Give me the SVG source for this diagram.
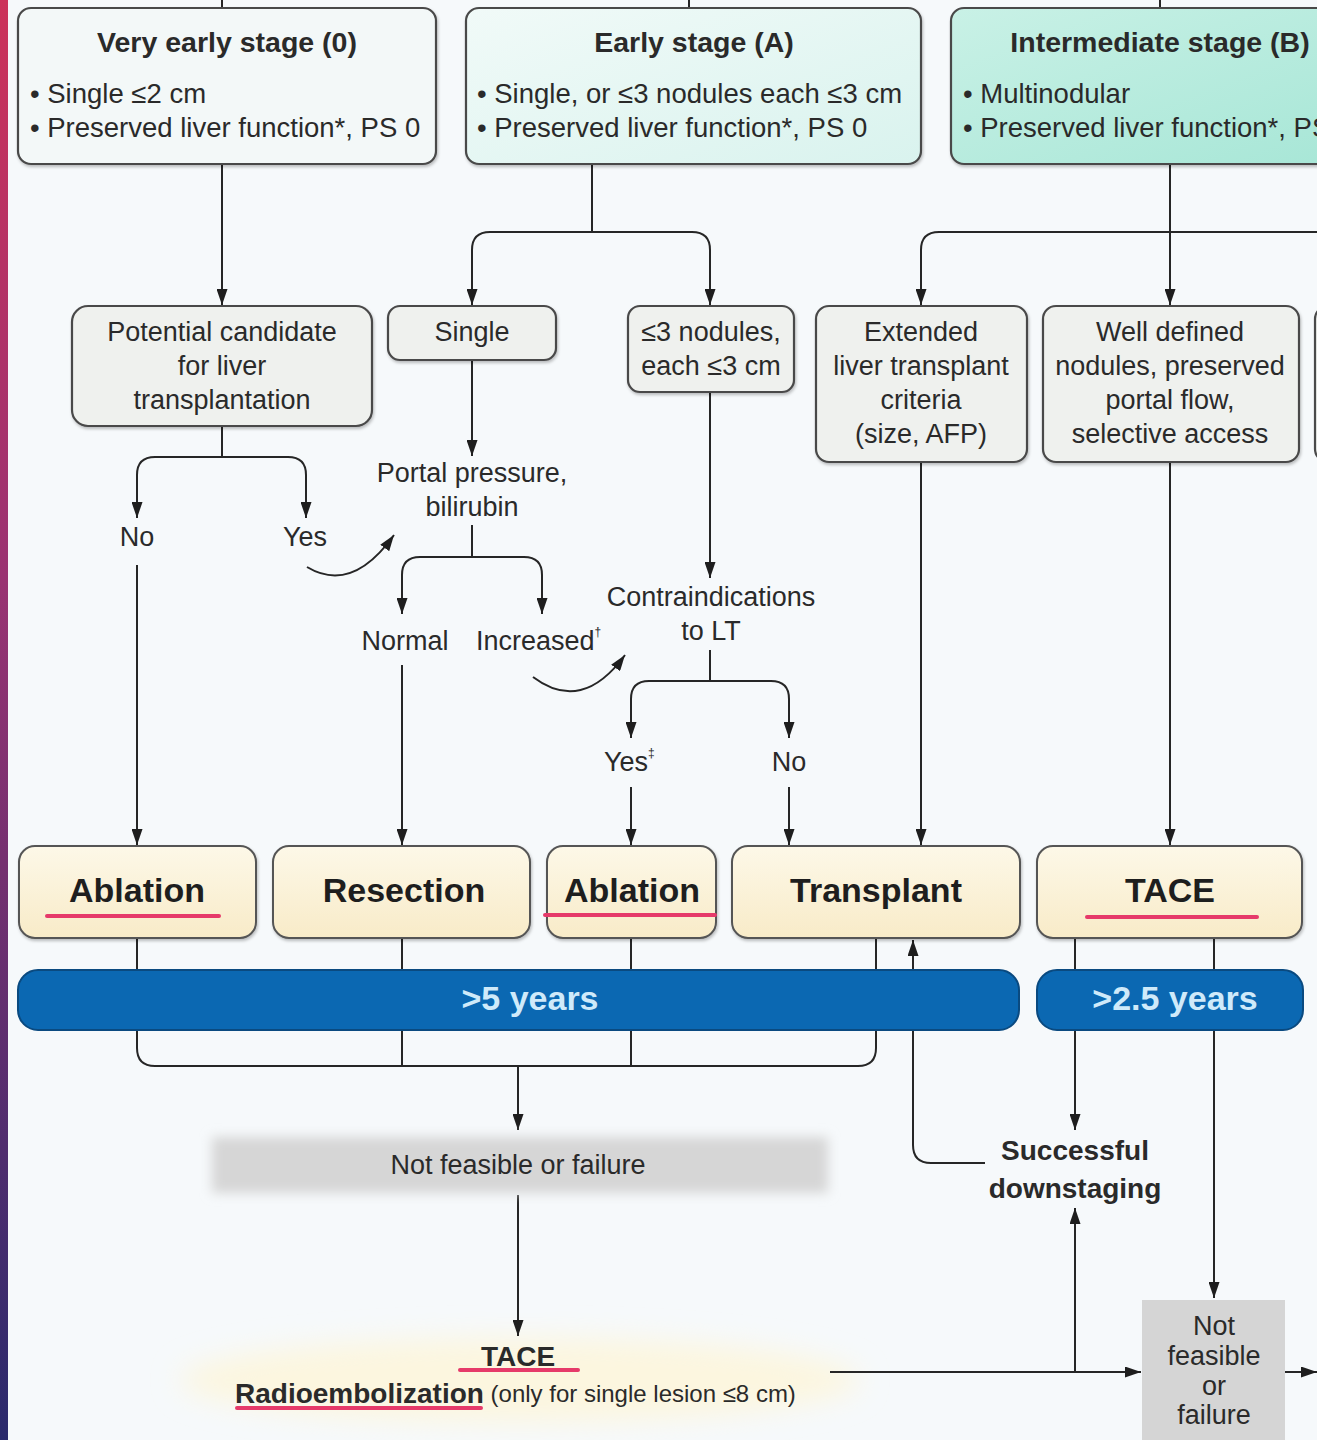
<svg xmlns="http://www.w3.org/2000/svg" width="1317" height="1440" viewBox="0 0 1317 1440">
<defs>
<style>
text{font-family:"Liberation Sans",Arial,sans-serif;fill:#2a2a2a;dominant-baseline:central}
.t{font-size:27px}
.ti{font-size:28.5px}
.bl{font-size:27.5px}
.b{font-weight:bold}
.c{text-anchor:middle}
.stage{stroke:#4a4a4a;stroke-width:2.2}
.q{fill:#eff1ee;stroke:#4a4a4a;stroke-width:2.2}
.tr{fill:url(#cream);stroke:#555;stroke-width:2}
.tl{font-size:34px;font-weight:bold;text-anchor:middle;fill:#1e1e1e}
.bar{fill:#0b68b2;stroke:#0a4a80;stroke-width:2}
.bt{font-size:34px;font-weight:bold;text-anchor:middle;fill:#cfeafa}
.ul{stroke:#e63a6a;stroke-width:4;stroke-linecap:round;fill:none}
.cn path{fill:none;stroke:#262626;stroke-width:2}
.a{marker-end:url(#arr)}
.sup{font-size:12px}
</style>
<marker id="arr" markerUnits="userSpaceOnUse" markerWidth="16" markerHeight="11" refX="16" refY="5.5" orient="auto">
<path d="M0,0 L16,5.5 L0,11 z" fill="#1e1e1e"/>
</marker>
<linearGradient id="strip" x1="0" y1="0" x2="0" y2="1">
<stop offset="0" stop-color="#cc335a"/>
<stop offset="0.4" stop-color="#9a3372"/>
<stop offset="1" stop-color="#2a2a6c"/>
</linearGradient>
<linearGradient id="cream" x1="0" y1="0" x2="0" y2="1">
<stop offset="0" stop-color="#fdf8e8"/>
<stop offset="1" stop-color="#f8ebc8"/>
</linearGradient>
<linearGradient id="gA" x1="0" y1="0" x2="1" y2="1">
<stop offset="0" stop-color="#f1faf8"/>
<stop offset="1" stop-color="#d9f3ee"/>
</linearGradient>
<linearGradient id="gB" x1="0" y1="0" x2="1" y2="1">
<stop offset="0" stop-color="#c9f1e6"/>
<stop offset="1" stop-color="#a6e6d6"/>
</linearGradient>
<filter id="sh" x="-5%" y="-5%" width="110%" height="120%">
<feDropShadow dx="1" dy="2" stdDeviation="1.5" flood-color="#000" flood-opacity="0.25"/>
</filter>
<filter id="blur" x="-10%" y="-40%" width="120%" height="180%">
<feGaussianBlur stdDeviation="6"/>
</filter>
<filter id="blur2" x="-20%" y="-60%" width="140%" height="220%">
<feGaussianBlur stdDeviation="14"/>
</filter>
</defs>

<rect width="1317" height="1440" fill="#f6f9fb"/>
<rect width="8" height="1440" fill="url(#strip)"/>
<ellipse cx="520" cy="1380" rx="340" ry="42" fill="#fcf6df" filter="url(#blur2)"/>

<g id="connectors" class="cn">
<path d="M222,0 V8"/>
<path d="M689,0 V8"/>
<path d="M1160,0 V8"/>
<path class="a" d="M222,164 V305"/>
<path d="M592,164 V232"/>
<path class="a" d="M592,232 H490 Q472,232 472,250 V305"/>
<path class="a" d="M592,232 H692 Q710,232 710,250 V305"/>
<path class="a" d="M1170,164 V305"/>
<path class="a" d="M1317,232 H939 Q921,232 921,250 V305"/>
<path d="M222,426 V457"/>
<path class="a" d="M222,457 H155 Q137,457 137,475 V518"/>
<path class="a" d="M222,457 H288 Q306,457 306,475 V518"/>
<path class="a" d="M137,565 V845"/>
<path class="a" d="M307,567 Q352,594 394,535"/>
<path class="a" d="M472,360 V456"/>
<path d="M472,525 V557"/>
<path class="a" d="M472,557 H420 Q402,557 402,575 V614"/>
<path class="a" d="M472,557 H524 Q542,557 542,575 V614"/>
<path class="a" d="M402,665 V845"/>
<path class="a" d="M533,677 Q582,714 625,655"/>
<path class="a" d="M710,392 V578"/>
<path d="M710,650 V681"/>
<path class="a" d="M710,681 H649 Q631,681 631,699 V738"/>
<path class="a" d="M710,681 H771 Q789,681 789,699 V738"/>
<path class="a" d="M631,787 V845"/>
<path class="a" d="M789,787 V845"/>
<path class="a" d="M921,462 V845"/>
<path class="a" d="M1170,462 V845"/>
<path d="M137,938 V1048 Q137,1066 155,1066 H858 Q876,1066 876,1048 V938"/>
<path d="M402,938 V1066"/>
<path d="M631,938 V1066"/>
<path class="a" d="M518,1066 V1130"/>
<path class="a" d="M518,1195 V1336"/>
<path class="a" d="M985,1163 H931 Q913,1163 913,1145 V940"/>
<path class="a" d="M1075,938 V1130"/>
<path class="a" d="M1214,938 V1298"/>
<path class="a" d="M830,1372 H1141"/>
<path class="a" d="M1075,1372 V1208"/>
<path class="a" d="M1285,1372 H1317"/>
</g>

<g id="stage0">
<rect class="stage" x="18" y="8" width="418" height="156" rx="13" fill="#f3f8f8" filter="url(#sh)"/>
<text class="ti b c" x="227" y="42">Very early stage (0)</text>
<text class="bl" x="30" y="93">• Single ≤2 cm</text>
<text class="bl" x="30" y="127">• Preserved liver function*, PS 0</text>
</g>

<g id="stageA">
<rect class="stage" x="466" y="8" width="455" height="156" rx="13" fill="url(#gA)" filter="url(#sh)"/>
<text class="ti b c" x="694" y="42">Early stage (A)</text>
<text class="bl" x="477" y="93">• Single, or ≤3 nodules each ≤3 cm</text>
<text class="bl" x="477" y="127">• Preserved liver function*, PS 0</text>
</g>

<g id="stageB">
<rect class="stage" x="951" y="8" width="420" height="156" rx="13" fill="url(#gB)" filter="url(#sh)"/>
<text class="ti b c" x="1160" y="42">Intermediate stage (B)</text>
<text class="bl" x="963" y="93">• Multinodular</text>
<text class="bl" x="963" y="127">• Preserved liver function*, PS 0</text>
</g>

<g id="candidate">
<rect class="q" x="72" y="306" width="300" height="120" rx="16" filter="url(#sh)"/>
<text class="t c" x="222" y="332">Potential candidate</text>
<text class="t c" x="222" y="366">for liver</text>
<text class="t c" x="222" y="400">transplantation</text>
</g>

<g id="single">
<rect class="q" x="388" y="306" width="168" height="54" rx="12" filter="url(#sh)"/>
<text class="t c" x="472" y="332">Single</text>
</g>

<g id="nodules3">
<rect class="q" x="628" y="306" width="166" height="86" rx="12" filter="url(#sh)"/>
<text class="t c" x="711" y="332">≤3 nodules,</text>
<text class="t c" x="711" y="366">each ≤3 cm</text>
</g>

<g id="extended">
<rect class="q" x="816" y="306" width="211" height="156" rx="13" filter="url(#sh)"/>
<text class="t c" x="921" y="332">Extended</text>
<text class="t c" x="921" y="366">liver transplant</text>
<text class="t c" x="921" y="400">criteria</text>
<text class="t c" x="921" y="434">(size, AFP)</text>
</g>

<g id="welldefined">
<rect class="q" x="1043" y="306" width="256" height="156" rx="13" filter="url(#sh)"/>
<text class="t c" x="1170" y="332">Well defined</text>
<text class="t c" x="1170" y="366">nodules, preserved</text>
<text class="t c" x="1170" y="400">portal flow,</text>
<text class="t c" x="1170" y="434">selective access</text>
</g>

<g id="offscreen">
<rect class="q" x="1315" y="306" width="60" height="156" rx="13"/>
</g>

<g id="labels">
<text class="t c" x="137" y="537">No</text>
<text class="t c" x="305" y="537">Yes</text>
<text class="t c" x="472" y="473">Portal pressure,</text>
<text class="t c" x="472" y="507">bilirubin</text>
<text class="t c" x="405" y="641">Normal</text>
<text class="t" x="476" y="641">Increased<tspan class="sup" dy="-9">†</tspan></text>
<text class="t c" x="711" y="597">Contraindications</text>
<text class="t c" x="711" y="631">to LT</text>
<text class="t" x="604" y="762">Yes<tspan class="sup" dy="-9">‡</tspan></text>
<text class="t c" x="789" y="762">No</text>
</g>

<g id="ablation1">
<rect class="tr" x="19" y="846" width="237" height="92" rx="16" filter="url(#sh)"/>
<text class="tl" x="137" y="890">Ablation</text>
<path class="ul" d="M47,916 H219"/>
</g>
<g id="resection">
<rect class="tr" x="273" y="846" width="257" height="92" rx="16" filter="url(#sh)"/>
<text class="tl" x="404" y="890">Resection</text>
</g>
<g id="ablation2">
<rect class="tr" x="547" y="846" width="169" height="92" rx="16" filter="url(#sh)"/>
<text class="tl" x="632" y="890">Ablation</text>
<path class="ul" d="M545,915 H715"/>
</g>
<g id="transplant">
<rect class="tr" x="732" y="846" width="288" height="92" rx="16" filter="url(#sh)"/>
<text class="tl" x="876" y="890">Transplant</text>
</g>
<g id="tace">
<rect class="tr" x="1037" y="846" width="265" height="92" rx="16" filter="url(#sh)"/>
<text class="tl" x="1170" y="890">TACE</text>
<path class="ul" d="M1087,917 H1257"/>
</g>

<g id="bar5">
<rect class="bar" x="18" y="970" width="1001" height="60" rx="20"/>
<text class="bt" x="530" y="998">&gt;5 years</text>
</g>
<g id="bar25">
<rect class="bar" x="1037" y="970" width="266" height="60" rx="20"/>
<text class="bt" x="1175" y="998">&gt;2.5 years</text>
</g>

<g id="notfeasible1">
<rect x="212" y="1137" width="616" height="56" fill="#d6d6d6" filter="url(#blur)"/>
<text class="t c" x="518" y="1165">Not feasible or failure</text>
</g>

<g id="tacebottom">
<text class="b c" style="font-size:28px" x="518" y="1356">TACE</text>
<path class="ul" d="M460,1370 H578"/>
<text x="235" y="1393" style="font-size:28px"><tspan class="b">Radioembolization</tspan><tspan style="font-size:24px"> (only for single lesion ≤8 cm)</tspan></text>
<path class="ul" d="M237,1408 H481"/>
</g>

<g id="downstaging">
<text class="b c" style="font-size:28px" x="1075" y="1150">Successful</text>
<text class="b c" style="font-size:28px" x="1075" y="1188">downstaging</text>
</g>

<g id="notfeasible2">
<rect x="1142" y="1300" width="143" height="140" fill="#d5d5d5"/>
<text class="t c" x="1214" y="1326">Not</text>
<text class="t c" x="1214" y="1356">feasible</text>
<text class="t c" x="1214" y="1386">or</text>
<text class="t c" x="1214" y="1415">failure</text>
</g>
</svg>
